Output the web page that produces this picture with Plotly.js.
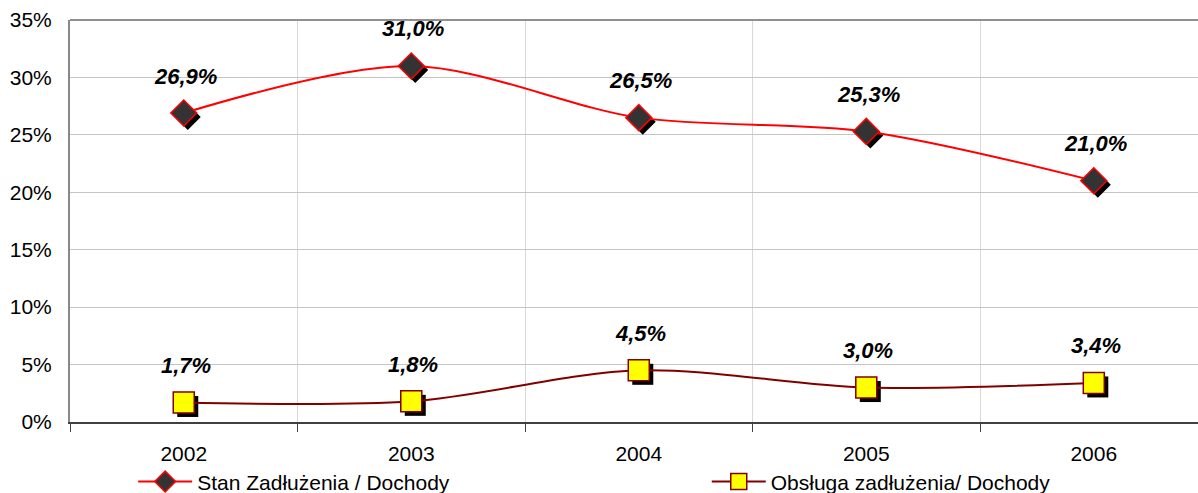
<!DOCTYPE html>
<html>
<head>
<meta charset="utf-8">
<script src="https://cdn.plot.ly/plotly-3.0.1.min.js"></script>
<style>html,body{margin:0;padding:0;background:#fff;}#chart{width:1198px;height:493px;}</style>
</head>
<body>
<div id="chart"></div>
<script>
const years = ['2002', '2003', '2004', '2005', '2006'];
const stanZadluzenia = [26.9, 31.0, 26.5, 25.3, 21.0];
const obslugaZadluzenia = [1.7, 1.8, 4.5, 3.0, 3.4];
const seriesNames = ['Stan Zadłużenia / Dochody', 'Obsługa zadłużenia/ Dochody'];

const FONT = 'Arial, "Liberation Sans", sans-serif';
const W = 1198, H = 493;
const M = {l: 70, r: 0, t: 20, b: 71, autoexpand: false};
const xRange = [-0.5, 4.458];
const yRange = [0, 35];
const pxPerCat = (W - M.l - M.r) / (xRange[1] - xRange[0]);
const pxPerUnit = (H - M.t - M.b) / (yRange[1] - yRange[0]);
const SH = 4; // shadow offset in px
const xShadow = [xRange[0] - SH / pxPerCat, xRange[1] - SH / pxPerCat];
const yShadow = [yRange[0] + SH / pxPerUnit, yRange[1] + SH / pxPerUnit];

const fmt = v => v.toFixed(1).replace('.', ',') + '%';

const traces = [
  {x: years, y: [0, 0, 0, 0, 0], xaxis: 'x', yaxis: 'y', mode: 'markers', showlegend: false, hoverinfo: 'skip',
   marker: {size: 1, opacity: 0}},
  {x: years, y: stanZadluzenia, xaxis: 'x2', yaxis: 'y2', mode: 'markers', showlegend: false, hoverinfo: 'skip',
   marker: {symbol: 'diamond', size: 20, color: '#000000', line: {width: 0}}},
  {x: years, y: obslugaZadluzenia, xaxis: 'x2', yaxis: 'y2', mode: 'markers', showlegend: false, hoverinfo: 'skip',
   marker: {symbol: 'square', size: 21, color: '#000000', line: {width: 0}}},
  {x: years, y: stanZadluzenia, xaxis: 'x3', yaxis: 'y3', mode: 'lines+markers', name: seriesNames[0], legend: 'legend',
   line: {color: '#ff0000', width: 2, shape: 'spline', smoothing: 0.9},
   marker: {symbol: 'diamond', size: 20, color: '#333333', line: {color: '#ff0000', width: 1.5}}},
  {x: years, y: obslugaZadluzenia, xaxis: 'x3', yaxis: 'y3', mode: 'lines+markers', name: seriesNames[1], legend: 'legend2',
   line: {color: '#800000', width: 2, shape: 'spline', smoothing: 0.9},
   marker: {symbol: 'square', size: 21, color: '#ffff00', line: {color: '#800000', width: 1.5}}}
];

const annotations = [];
[stanZadluzenia, obslugaZadluzenia].forEach(arr => {
  arr.forEach((v, i) => {
    annotations.push({x: i, y: v, xref: 'x3', yref: 'y3', text: '<b><i>' + fmt(v) + '</i></b>',
      showarrow: false, yshift: 37, xshift: 2, yanchor: 'middle', xanchor: 'center',
      font: {family: FONT, size: 22, color: '#000000'}});
  });
});

const hidden = {visible: false, showgrid: false, zeroline: false, fixedrange: true};
const legendBase = {orientation: 'h', xanchor: 'left', y: -0.149, yanchor: 'middle',
  font: {family: FONT, size: 21, color: '#000000'}, itemwidth: 54, bgcolor: 'rgba(0,0,0,0)'};

const layout = {
  width: W, height: H,
  margin: M,
  paper_bgcolor: '#ffffff', plot_bgcolor: '#ffffff',
  font: {family: FONT, color: '#000000'},
  showlegend: true,
  legend: Object.assign({x: 0.056}, legendBase),
  legend2: Object.assign({x: 0.5645}, legendBase),
  xaxis: {type: 'category', categoryorder: 'array', categoryarray: years, range: xRange,
    tickson: 'boundaries', ticks: 'outside', ticklen: 8, tickcolor: '#404040', tickwidth: 1,
    showgrid: true, gridcolor: '#d8d8d8', gridwidth: 1, ticklabelstandoff: 12,
    showline: true, linecolor: '#404040', linewidth: 2,
    tickfont: {family: FONT, size: 21, color: '#000000'}, fixedrange: true},
  yaxis: {range: yRange, dtick: 5, tick0: 0, ticksuffix: '%', ticks: '',
    showgrid: true, gridcolor: '#c4c4c4', gridwidth: 1, zeroline: false, ticklabelstandoff: 12,
    showline: true, linecolor: '#888888', linewidth: 2,
    tickfont: {family: FONT, size: 21, color: '#000000'}, fixedrange: true},
  xaxis2: Object.assign({type: 'category', categoryorder: 'array', categoryarray: years, range: xShadow, overlaying: 'x'}, hidden),
  yaxis2: Object.assign({range: yShadow, overlaying: 'y'}, hidden),
  xaxis3: Object.assign({type: 'category', categoryorder: 'array', categoryarray: years, range: xRange, overlaying: 'x'}, hidden),
  yaxis3: Object.assign({range: yRange, overlaying: 'y'}, hidden),
  shapes: [{type: 'line', xref: 'paper', yref: 'paper', x0: 0, x1: 1, y0: 1, y1: 1,
    line: {color: '#909090', width: 2}}],
  annotations: annotations
};

Plotly.newPlot('chart', traces, layout, {displayModeBar: false, staticPlot: true});
</script>
</body>
</html>
